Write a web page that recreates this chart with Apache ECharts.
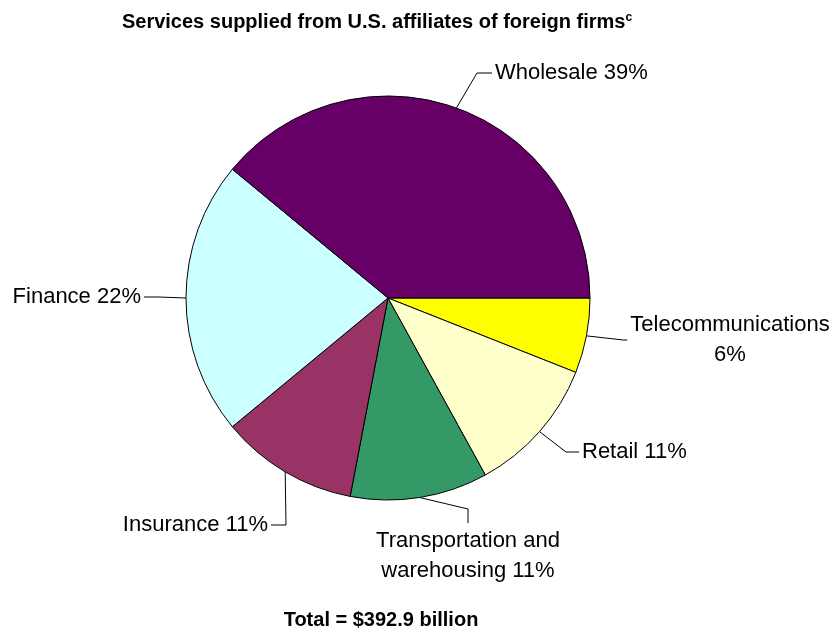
<!DOCTYPE html>
<html>
<head>
<meta charset="utf-8">
<script src="https://cdn.jsdelivr.net/npm/echarts@6/dist/echarts.min.js"></script>
<style>
  html, body { margin: 0; padding: 0; background: #ffffff; }
  #chart { width: 838px; height: 631px; }
</style>
</head>
<body>
<div id="chart"></div>
<script>
// Service industries, in clockwise order from 3 o'clock
const categories = ['Telecommunications', 'Retail', 'Transportation and warehousing', 'Insurance', 'Finance', 'Wholesale'];
// Share of total services supplied, percent
const shares = [6, 11, 11, 11, 22, 39];
// Label text shown before each percentage
const labelNames = ['Telecommunications\n', 'Retail ', 'Transportation and\nwarehousing ', 'Insurance ', 'Finance ', 'Wholesale '];
const sliceColors = ['#FFFF00', '#FFFFCC', '#339966', '#993366', '#CCFFFF', '#660066'];

const FONT = '"Liberation Sans", Arial, sans-serif';
const CENTER = [388, 298];
const RADIUS = 202;

// Where each label sits and which side its leader line attaches to
const labelPlacement = [
  { x: 730, y: 340, align: 'center', side: 'left', len2: 4 },
  { x: 582, y: 452, align: 'left', side: 'left', len2: 13 },
  { x: 468, y: 556, align: 'center', side: 'top', len2: 14 },
  { x: 268, y: 525, align: 'right', side: 'right', len2: 15 },
  { x: 141, y: 297, align: 'right', side: 'right', len2: 15 },
  { x: 495, y: 73, align: 'left', side: 'left', len2: 15 }
];

const total = shares.reduce((a, b) => a + b, 0);
function midAngle(i) {
  let c = 0;
  for (let k = 0; k < i; k++) c += shares[k];
  return (c + shares[i] / 2) / total * 2 * Math.PI;
}

const chart = echarts.init(document.getElementById('chart'), null, { renderer: 'canvas' });

chart.setOption({
  animation: false,
  backgroundColor: '#ffffff',
  title: [
    {
      text: '{m|Services supplied from U.S. affiliates of foreign firms}{s|c}',
      left: 372,
      top: 7,
      textAlign: 'center',
      textStyle: {
        rich: {
          m: { fontFamily: FONT, fontSize: 20, fontWeight: 'bold', color: '#000' },
          s: { fontFamily: FONT, fontSize: 12, fontWeight: 'bold', color: '#000', verticalAlign: 'top' }
        }
      }
    },
    {
      text: 'Total = $392.9 billion',
      left: 376,
      top: 605,
      textAlign: 'center',
      textStyle: { fontFamily: FONT, fontSize: 20, fontWeight: 'bold', color: '#000' }
    }
  ],
  series: [{
    type: 'pie',
    center: CENTER,
    radius: RADIUS,
    startAngle: 0,
    clockwise: true,
    avoidLabelOverlap: false,
    minShowLabelAngle: 0,
    data: categories.map((name, i) => ({
      name: name,
      value: shares[i],
      itemStyle: { color: sliceColors[i] }
    })),
    itemStyle: { borderColor: '#000', borderWidth: 1 },
    label: {
      show: true,
      position: 'outside',
      fontFamily: FONT,
      fontSize: 22,
      lineHeight: 30,
      color: '#000',
      formatter: p => labelNames[p.dataIndex] + p.value + '%'
    },
    labelLine: {
      show: true,
      smooth: false,
      lineStyle: { color: '#000', width: 1 }
    },
    labelLayout: function (p) {
      const L = labelPlacement[p.dataIndex];
      const w = p.labelRect.width, h = p.labelRect.height;
      const left = L.align === 'center' ? L.x - w / 2 : (L.align === 'right' ? L.x - w : L.x);
      const top = L.y - h / 2;
      const gap = 3;
      let anchor, elbow;
      if (L.side === 'left') {
        anchor = [left - gap, L.y];
        elbow = [anchor[0] - L.len2, L.y];
      } else if (L.side === 'right') {
        anchor = [left + w + gap, L.y];
        elbow = [anchor[0] + L.len2, L.y];
      } else {
        anchor = [L.x, top - gap];
        elbow = [L.x, anchor[1] - L.len2];
      }
      const a = midAngle(p.dataIndex);
      const edge = [CENTER[0] + RADIUS * Math.cos(a), CENTER[1] + RADIUS * Math.sin(a)];
      return {
        x: L.x,
        y: L.y,
        align: L.align,
        verticalAlign: 'middle',
        labelLinePoints: [edge, elbow, anchor]
      };
    },
    emphasis: { disabled: true }
  }]
});
</script>
</body>
</html>
